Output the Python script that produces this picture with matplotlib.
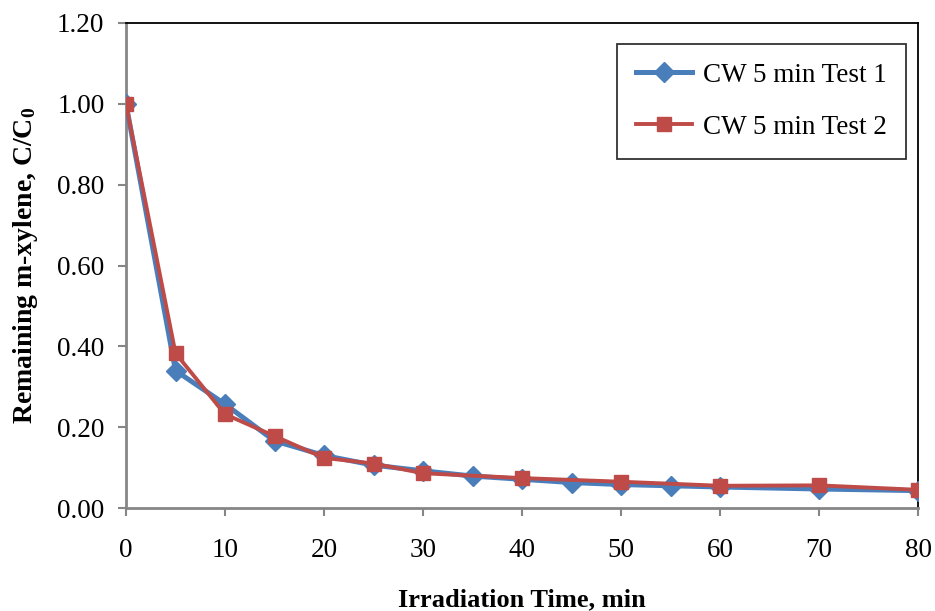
import matplotlib
matplotlib.use("Agg")
import matplotlib.pyplot as plt

t1 = [0, 5, 10, 15, 20, 25, 30, 35, 40, 45, 50, 55, 60, 70, 80]
c1 = [1.00, 0.34, 0.257, 0.166, 0.130, 0.106, 0.092, 0.079, 0.071, 0.063, 0.058, 0.055, 0.052, 0.047, 0.043]
t2 = [0, 5, 10, 15, 20, 25, 30, 40, 50, 60, 70, 80]
c2 = [1.00, 0.383, 0.232, 0.178, 0.124, 0.110, 0.086, 0.074, 0.065, 0.055, 0.056, 0.045]
xticks = [0, 10, 20, 30, 40, 50, 60, 70, 80]
yticks = [0.0, 0.2, 0.4, 0.6, 0.8, 1.0, 1.2]

plt.rcParams['font.family'] = ['Liberation Serif', 'DejaVu Serif']
plt.rcParams['mathtext.fontset'] = 'custom'
plt.rcParams['mathtext.rm'] = 'Liberation Serif'
plt.rcParams['mathtext.bf'] = 'Liberation Serif:bold'

fig = plt.figure(figsize=(9.35, 6.11), dpi=100)
ax = fig.add_axes([126/935, 1-508/611, (918-126)/935, (508-23)/611])

ax.plot(t1, c1, color='#4a7ebb', lw=3.6, marker='D', ms=10, label='CW 5 min Test 1', zorder=3)
ax.plot(t2, c2, color='#be4b48', lw=2.8, marker='s', ms=10, label='CW 5 min Test 2', zorder=4)

ax.set_xlim(0, 80)
ax.set_ylim(0, 1.2)
ax.set_xticks(xticks)
ax.set_yticks(yticks)
ax.set_yticklabels([f'{v:.2f}' for v in yticks])
ax.tick_params(labelsize=19.5, colors='#868686', labelcolor='black', length=5.5, width=1.5, direction='out')
ax.tick_params(axis='x', pad=16)
ax.tick_params(axis='y', pad=10)
for s in ['left', 'bottom']:
    ax.spines[s].set_color('#868686')
    ax.spines[s].set_linewidth(2)
for s in ['top', 'right']:
    ax.spines[s].set_color('black')
    ax.spines[s].set_linewidth(1.3)

ax.set_xlabel('Irradiation Time, min', fontsize=19, fontweight='bold', labelpad=18)
ax.set_ylabel(r'Remaining m-xylene, C/C$\mathbf{_0}$', fontsize=20, fontweight='bold', labelpad=12)

leg = ax.legend(loc='upper right', bbox_to_anchor=(0.985, 0.957), borderaxespad=0, fontsize=19.5,
                frameon=True, fancybox=False, edgecolor='black', handlelength=2.1, borderpad=0.7,
                labelspacing=1.0, handletextpad=0.4)
leg.get_frame().set_linewidth(1.3)

fig.savefig('out.png', dpi=100)
